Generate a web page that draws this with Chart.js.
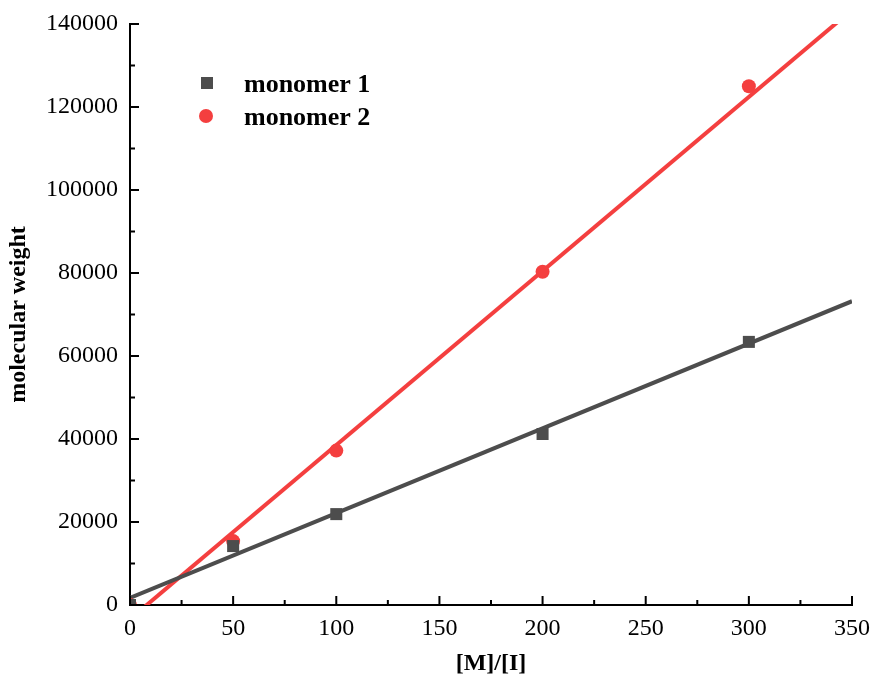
<!DOCTYPE html>
<html>
<head>
<meta charset="utf-8">
<script src="https://cdn.jsdelivr.net/npm/chart.js@4"></script>
<style>
  html, body { margin: 0; padding: 0; background: #fff; }
  #wrap { width: 876px; height: 682px; }
</style>
</head>
<body>
<div id="wrap"><canvas id="chart" width="876" height="682"></canvas></div>
<script>
// values
const ratioM = [0, 50, 100, 200, 300];
const monomer1 = [0, 14200, 21900, 41200, 63400];
const monomer2 = [0, 15400, 37200, 80300, 125000];

// linear fit lines, endpoints
const fit1X = [0, 350];
const fit1Y = [1700, 73200];
const fit2X = [0, 350];
const fit2Y = [-3400, 143400];

const xTicks = [0, 50, 100, 150, 200, 250, 300, 350];
const yTicks = [0, 20000, 40000, 60000, 80000, 100000, 120000, 140000];

const grey = "#4d4d4d";
const red = "#f43f3f";
const font = "'Liberation Serif', 'Times New Roman', serif";

function pts(xs, ys) {
    return xs.map((x, i) => ({ x: x, y: ys[i] }));
}

// ticks pointing into the plot, with minor ticks halfway
const innerTicks = {
    id: "innerTicks",
    afterDraw(chart) {
        const ctx = chart.ctx;
        const xs = chart.scales.x, ys = chart.scales.y;
        ctx.save();
        ctx.strokeStyle = "#000";
        ctx.lineWidth = 2;
        ctx.beginPath();
        for (let i = 0; i < xTicks.length; i++) {
            let px = xs.getPixelForValue(xTicks[i]);
            ctx.moveTo(px, ys.bottom); ctx.lineTo(px, ys.bottom - 9);
            if (i < xTicks.length - 1) {
                let mx = xs.getPixelForValue((xTicks[i] + xTicks[i + 1]) / 2);
                ctx.moveTo(mx, ys.bottom); ctx.lineTo(mx, ys.bottom - 5);
            }
        }
        for (let i = 0; i < yTicks.length; i++) {
            let py = ys.getPixelForValue(yTicks[i]);
            ctx.moveTo(xs.left, py); ctx.lineTo(xs.left + 9, py);
            if (i < yTicks.length - 1) {
                let my = ys.getPixelForValue((yTicks[i] + yTicks[i + 1]) / 2);
                ctx.moveTo(xs.left, my); ctx.lineTo(xs.left + 5, my);
            }
        }
        ctx.stroke();
        ctx.restore();
    }
};

// legend drawn inside the plot area
const innerLegend = {
    id: "innerLegend",
    afterDraw(chart) {
        const ctx = chart.ctx;
        ctx.save();
        ctx.fillStyle = grey;
        ctx.fillRect(201, 77, 12, 12);
        ctx.fillStyle = red;
        ctx.beginPath();
        ctx.arc(206, 116, 7, 0, Math.PI * 2);
        ctx.fill();
        ctx.fillStyle = "#000";
        ctx.font = "bold 26px " + font;
        ctx.textBaseline = "alphabetic";
        ctx.fillText("monomer 1", 244, 92);
        ctx.fillText("monomer 2", 244, 125);
        ctx.restore();
    }
};

const ctx = document.getElementById("chart").getContext("2d");
new Chart(ctx, {
    type: "scatter",
    data: {
        datasets: [
            {
                label: "monomer 1",
                data: pts(ratioM, monomer1),
                pointStyle: "rect",
                pointRadius: 8.5,
                backgroundColor: grey,
                borderColor: grey,
                borderWidth: 0,
                order: 1
            },
            {
                label: "monomer 2",
                data: pts(ratioM, monomer2),
                pointStyle: "circle",
                pointRadius: 7,
                backgroundColor: red,
                borderColor: red,
                borderWidth: 0,
                order: 1
            },
            {
                label: "fit 1",
                type: "line",
                data: pts(fit1X, fit1Y),
                borderColor: grey,
                borderWidth: 4,
                pointRadius: 0,
                order: 2
            },
            {
                label: "fit 2",
                type: "line",
                data: pts(fit2X, fit2Y),
                borderColor: red,
                borderWidth: 4,
                pointRadius: 0,
                order: 2
            }
        ]
    },
    options: {
        responsive: false,
        animation: false,
        events: [],
        layout: { padding: { left: 0, right: 24, top: 24, bottom: 0 } },
        plugins: {
            legend: { display: false },
            tooltip: { enabled: false }
        },
        scales: {
            x: {
                type: "linear",
                min: 0, max: 350,
                afterBuildTicks: (s) => { s.ticks = xTicks.map(v => ({ value: v })); },
                afterFit: (s) => { s.height = 77; s.paddingRight = 0; s.paddingLeft = 0; },
                grid: { display: false, drawTicks: false },
                border: { display: true, color: "#000", width: 2 },
                ticks: { color: "#000", font: { family: font, size: 24 }, padding: 9, callback: (v) => String(v) },
                title: {
                    display: true, text: "[M]/[I]", color: "#000",
                    font: { family: font, size: 24, weight: "bold" }, padding: { top: 0 }
                }
            },
            y: {
                min: 0, max: 140000,
                afterBuildTicks: (s) => { s.ticks = yTicks.map(v => ({ value: v })); },
                afterFit: (s) => { s.width = 130; s.paddingTop = 0; s.paddingBottom = 0; },
                grid: { display: false, drawTicks: false },
                border: { display: true, color: "#000", width: 2 },
                ticks: { color: "#000", font: { family: font, size: 24 }, padding: 12, callback: (v) => String(v) },
                title: {
                    display: true, text: "molecular weight", color: "#000",
                    font: { family: font, size: 24, weight: "bold" }, padding: { bottom: 2 }
                }
            }
        }
    },
    plugins: [innerTicks, innerLegend]
});
</script>
</body>
</html>
